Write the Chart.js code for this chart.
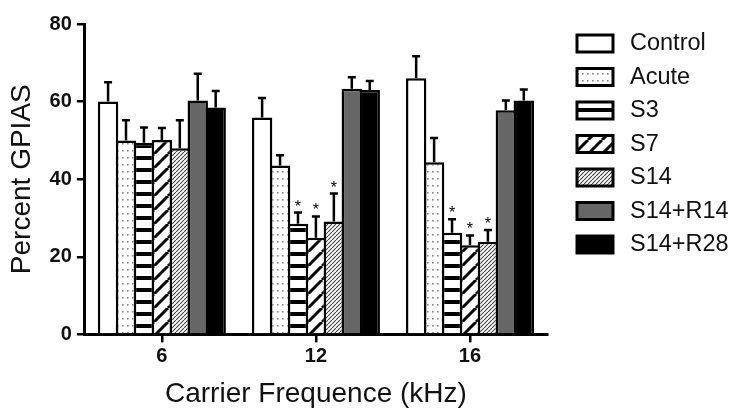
<!DOCTYPE html>
<html>
<head>
<meta charset="utf-8">
<script src="https://cdn.jsdelivr.net/npm/chart.js@4.4.1/dist/chart.umd.min.js"></script>
<style>
  html, body { margin: 0; padding: 0; background: #fff; }
  #wrap { width: 732px; height: 408px; }
</style>
</head>
<body>
<div id="wrap"><canvas id="gpias"></canvas></div>
<script>
// values (percent GPIAS, mean and upper SEM)
const categories = ['6', '12', '16'];
const seriesNames = ['Control', 'Acute', 'S3', 'S7', 'S14', 'S14+R14', 'S14+R28'];

const controlMean = [60.0, 55.9, 66.0];
const controlErr  = [5.0, 5.0, 5.7];
const acuteMean   = [50.0, 43.5, 44.4];
const acuteErr    = [5.2, 2.7, 6.2];
const s3Mean      = [49.4, 28.5, 26.2];
const s3Err       = [3.9, 2.9, 3.5];
const s7Mean      = [50.1, 24.9, 23.0];
const s7Err       = [3.1, 5.5, 2.5];
const s14Mean     = [48.0, 29.1, 23.9];
const s14Err      = [7.2, 7.2, 3.0];
const r14Mean     = [60.3, 63.3, 57.8];
const r14Err      = [6.9, 3.0, 2.5];
const r28Mean     = [58.5, 63.0, 60.3];
const r28Err      = [4.2, 2.3, 2.8];

// asterisks (significant vs control)
const s3Sig  = [false, true, true];
const s7Sig  = [false, true, true];
const s14Sig = [false, true, true];

const yTicks = [0, 20, 40, 60, 80];

const FONT = '"Liberation Sans", Arial, Helvetica, sans-serif';
const INK = '#111';

// ---- fill patterns ----
const makeTile = (w, h, paint) => {
    const c = document.createElement('canvas');
    c.width = w; c.height = h;
    const g = c.getContext('2d');
    g.fillStyle = '#fff';
    g.fillRect(0, 0, w, h);
    paint(g, w, h);
    return document.createElement('canvas').getContext('2d').createPattern(c, 'repeat');
};

const diag = (g, s, lw, color) => {
    g.strokeStyle = color;
    g.lineWidth = lw;
    g.beginPath();
    for (let k = -1; k <= 1; k++) {
        g.moveTo(k * s, s);
        g.lineTo(k * s + s, 0);
    }
    g.stroke();
};

const fills = [
    '#ffffff',
    makeTile(5, 7, (g) => { g.fillStyle = '#888'; g.fillRect(2, 3, 1.6, 1.6); }),
    makeTile(4, 12, (g, w) => { g.fillStyle = '#000'; g.fillRect(0, 0, w, 4); }),
    makeTile(14, 14, (g, s) => diag(g, s, 3, '#000')),
    makeTile(4, 4, (g, s) => diag(g, s, 1.1, '#444')),
    '#666666',
    '#000000'
];

const means = [controlMean, acuteMean, s3Mean, s7Mean, s14Mean, r14Mean, r28Mean];
const errs = [controlErr, acuteErr, s3Err, s7Err, s14Err, r14Err, r28Err];
const sigs = [null, null, s3Sig, s7Sig, s14Sig, null, null];

const datasets = seriesNames.map((name, i) => ({
    label: name,
    data: means[i],
    err: errs[i],
    sig: sigs[i],
    backgroundColor: fills[i],
    borderColor: '#000',
    borderWidth: 2.5,
    categoryPercentage: 0.815,
    barPercentage: 1.139
}));

// upward error bars + asterisks
const errorBars = {
    id: 'errorBars',
    afterDatasetsDraw(chart) {
        const ctx = chart.ctx;
        const y = chart.scales.y;
        ctx.save();
        ctx.strokeStyle = '#000';
        ctx.lineWidth = 2.5;
        chart.data.datasets.forEach((ds, i) => {
            chart.getDatasetMeta(i).data.forEach((bar, j) => {
                const top = y.getPixelForValue(ds.data[j] + ds.err[j]);
                ctx.beginPath();
                ctx.moveTo(bar.x, bar.y);
                ctx.lineTo(bar.x, top);
                ctx.moveTo(bar.x - 4, top);
                ctx.lineTo(bar.x + 4, top);
                ctx.stroke();
                if (ds.sig && ds.sig[j]) {
                    ctx.fillStyle = '#000';
                    ctx.font = '16px ' + FONT;
                    ctx.textAlign = 'center';
                    ctx.textBaseline = 'alphabetic';
                    ctx.fillText('*', bar.x, top - 1);
                }
            });
        });
        ctx.restore();
    }
};

// legend on the right, boxes share the bar fills
const sideLegend = {
    id: 'sideLegend',
    afterDraw(chart) {
        const ctx = chart.ctx;
        ctx.save();
        chart.data.datasets.forEach((ds, i) => {
            const top = 35 + i * 33.5;
            ctx.fillStyle = ds.backgroundColor;
            ctx.fillRect(577, top, 36, 17);
            ctx.strokeStyle = '#000';
            ctx.lineWidth = 3;
            ctx.strokeRect(577, top, 36, 17);
            ctx.fillStyle = INK;
            ctx.font = '23.5px ' + FONT;
            ctx.textAlign = 'left';
            ctx.textBaseline = 'middle';
            ctx.fillText(ds.label, 630, top + 9);
        });
        ctx.restore();
    }
};

new Chart(document.getElementById('gpias'), {
    type: 'bar',
    data: { labels: categories, datasets },
    plugins: [errorBars, sideLegend],
    options: {
        responsive: true,
        maintainAspectRatio: false,
        animation: false,
        layout: { padding: { left: 5, right: 185, top: 24, bottom: 0 } },
        plugins: {
            legend: { display: false },
            tooltip: { enabled: false }
        },
        scales: {
            x: {
                z: 1,
                grid: { drawOnChartArea: false, offset: false, tickLength: 8, color: '#000', lineWidth: 2.5 },
                border: { color: '#000', width: 3 },
                ticks: { color: INK, font: { family: FONT, size: 20, weight: 'bold' }, padding: 2 },
                title: { display: true, text: 'Carrier Frequence (kHz)', color: INK, font: { family: FONT, size: 28 }, padding: { top: 7, bottom: -3 } }
            },
            y: {
                min: 0,
                max: 80,
                afterBuildTicks: (scale) => { scale.ticks = yTicks.map(v => ({ value: v })); },
                grid: { drawOnChartArea: false, tickLength: 8, color: '#000', lineWidth: 2.5 },
                border: { color: '#000', width: 3 },
                ticks: { color: INK, font: { family: FONT, size: 20, weight: 'bold' }, padding: 5 },
                title: { display: true, text: 'Percent GPIAS', color: INK, font: { family: FONT, size: 28 }, padding: { top: 0, bottom: 6 } }
            }
        }
    }
});
</script>
</body>
</html>
